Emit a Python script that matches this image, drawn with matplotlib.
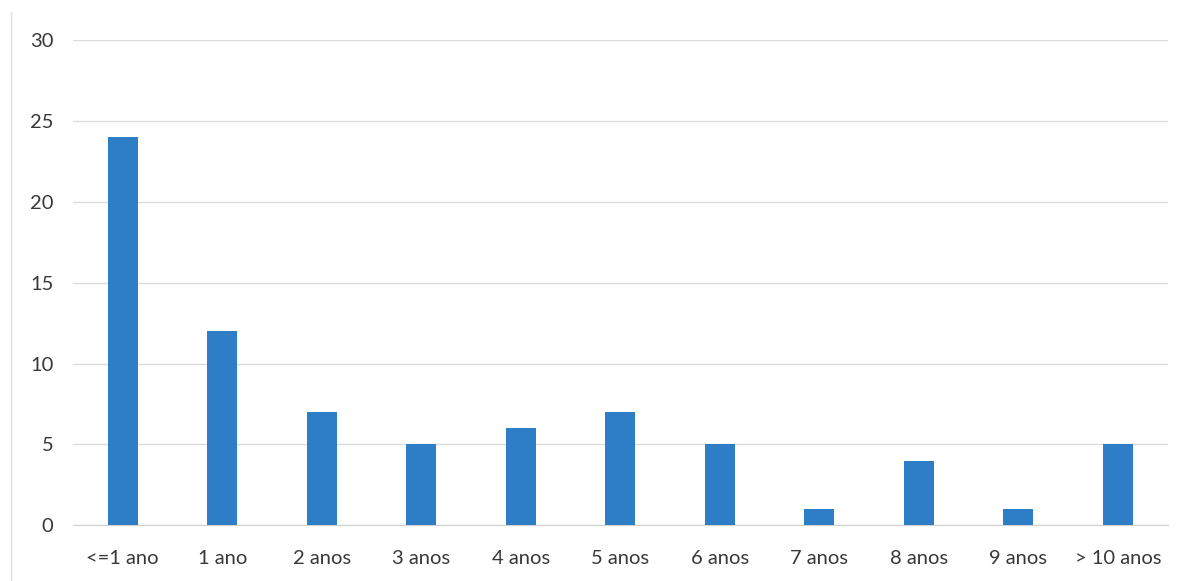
import numpy as np
import matplotlib.pyplot as plt
from matplotlib.lines import Line2D

# years of experience vs. count
categories = ['<=1 ano', '1 ano', '2 anos', '3 anos', '4 anos', '5 anos',
              '6 anos', '7 anos', '8 anos', '9 anos', '> 10 anos']
counts = [24, 12, 7, 5, 6, 7, 5, 1, 4, 1, 5]
yticks = [0, 5, 10, 15, 20, 25, 30]

plt.rcParams['font.family'] = ['Lato', 'DejaVu Sans']

fig = plt.figure(figsize=(11.94, 5.81), dpi=100)
ax = fig.add_axes([0.061, 0.096, 0.917, 0.835])

x = np.arange(len(categories))
ax.bar(x, counts, width=0.3, color='#2e7dc7', zorder=3)

ax.set_xlim(-0.5, len(categories) - 0.5)
ax.set_ylim(0, 30)
ax.set_yticks(yticks)
ax.set_xticks(x)
ax.set_xticklabels(categories)
ax.tick_params(axis='both', length=0, labelsize=14.5, colors='#383838')
ax.tick_params(axis='y', pad=14)
ax.tick_params(axis='x', pad=18)

ax.grid(axis='y', color='#dcdcdc', linewidth=1.0, zorder=0)
for side in ['top', 'right', 'left']:
    ax.spines[side].set_visible(False)
ax.spines['bottom'].set_color('#d0d0d0')

# faint chart frame edge on the left
fig.add_artist(Line2D([0.009, 0.009], [0.0, 0.98], color='#e0e0e0',
                      linewidth=1.0, transform=fig.transFigure))

fig.savefig('out.png', dpi=100)
